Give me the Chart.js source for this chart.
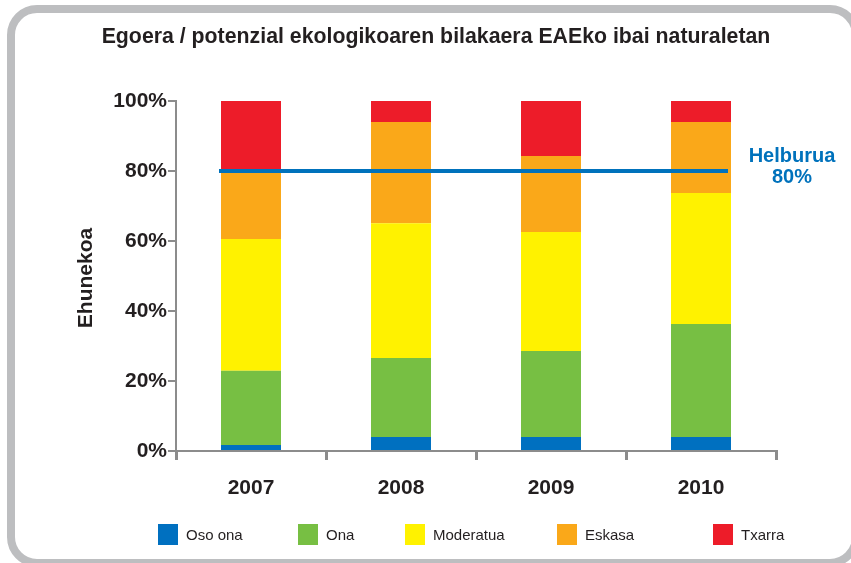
<!DOCTYPE html>
<html>
<head>
<meta charset="utf-8">
<script src="https://cdn.jsdelivr.net/npm/chart.js@4"></script>
<style>
  html, body { margin: 0; padding: 0; background: #fff; overflow: hidden; }
  #wrap { position: relative; width: 851px; height: 563px; overflow: hidden; }
  #frame {
    position: absolute; left: 7px; top: 5px; width: 837px; height: 546px;
    border: 8px solid #BDBEC0; border-radius: 30px;
  }
  #grafico { position: absolute; left: 0; top: 0; }
  #leyenda { position: absolute; left: 0; top: 524px; width: 851px; height: 22px; }
  .item { position: absolute; top: 0; display: flex; align-items: center; height: 21px;
          font: 15px "Liberation Sans", Arial, sans-serif; color: #231F20; }
  .item span.box { display: inline-block; width: 20px; height: 21px; margin-right: 8px; }
</style>
</head>
<body>
<div id="wrap">
  <div id="frame"></div>
  <canvas id="grafico" width="851" height="563"></canvas>
  <div id="leyenda"></div>
</div>
<script>
// ----------------------
// Datuak
// ----------------------
const urteak = ['2007', '2008', '2009', '2010'];
const osoOna    = [1.7, 4.0, 4.0, 4.0];
const ona       = [21.2, 22.6, 24.6, 32.3];
const moderatua = [37.7, 38.5, 34.0, 37.4];
const eskasa    = [19.7, 28.9, 21.7, 20.3];
const txarra    = [19.7, 6.0, 15.7, 6.0];
const helburua  = 80;
const yTicks    = [0, 20, 40, 60, 80, 100];

const izenburua = 'Egoera / potenzial ekologikoaren bilakaera EAEko ibai naturaletan';
const ardatzY   = 'Ehunekoa';

const series = [
  { label: 'Oso ona',   data: osoOna,    color: '#0070C0' },
  { label: 'Ona',       data: ona,       color: '#77BF43' },
  { label: 'Moderatua', data: moderatua, color: '#FFF200' },
  { label: 'Eskasa',    data: eskasa,    color: '#FAA819' },
  { label: 'Txarra',    data: txarra,    color: '#ED1C29' }
];

// legend item left edges (layout only)
const legendX = [158, 298, 405, 557, 713];

const ink = '#231F20';
const axisGray = '#8C8C8C';
const blue = '#0072BC';
const bold = size => ({ family: '"Liberation Sans", Arial, sans-serif', size, weight: 'bold' });

// ----------------------
// Testuak + helburu lerroa
// ----------------------
const textos = {
  id: 'textos',
  afterDatasetsDraw(chart) {
    const { ctx, scales } = chart;
    const y = scales.y, x = scales.x;
    const meta0 = chart.getDatasetMeta(0);
    const half = meta0.data[0].width / 2;
    const yl = y.getPixelForValue(helburua);
    const x0 = x.getPixelForValue(0) - half - 2;
    const x1 = x.getPixelForValue(urteak.length - 1) + half - 3;

    ctx.save();
    ctx.strokeStyle = blue;
    ctx.lineWidth = 4;
    ctx.beginPath();
    ctx.moveTo(x0, yl);
    ctx.lineTo(x1, yl);
    ctx.stroke();

    ctx.fillStyle = blue;
    ctx.font = 'bold 20px "Liberation Sans", Arial, sans-serif';
    ctx.textAlign = 'center';
    ctx.textBaseline = 'middle';
    ctx.fillText('Helburua', 792, yl - 15);
    ctx.fillText(helburua + '%', 792, yl + 6);
    ctx.restore();
  },
  afterDraw(chart) {
    const { ctx } = chart;
    ctx.save();
    ctx.fillStyle = ink;
    ctx.textAlign = 'center';
    ctx.textBaseline = 'middle';
    ctx.font = 'bold 21.3px "Liberation Sans", Arial, sans-serif';
    ctx.fillText(izenburua, 436, 37);

    ctx.translate(86, 278);
    ctx.rotate(-Math.PI / 2);
    ctx.font = 'bold 21px "Liberation Sans", Arial, sans-serif';
    ctx.fillText(ardatzY, 0, 0);
    ctx.restore();
  }
};

new Chart(document.getElementById('grafico'), {
  type: 'bar',
  data: {
    labels: urteak,
    datasets: series.map(s => ({
      label: s.label,
      data: s.data,
      backgroundColor: s.color,
      borderWidth: 0,
      categoryPercentage: 1,
      barPercentage: 0.4
    }))
  },
  options: {
    responsive: false,
    animation: false,
    layout: { padding: { top: 101, right: 75, bottom: 0, left: 0 } },
    plugins: {
      legend: { display: false },
      title: { display: false },
      tooltip: { enabled: false }
    },
    scales: {
      x: {
        stacked: true,
        afterFit: s => { s.height = 112; },
        grid: { offset: true, drawOnChartArea: false, tickLength: 9, color: axisGray, lineWidth: 3 },
        border: { color: axisGray, width: 2 },
        ticks: { color: ink, font: bold(21), padding: 16 }
      },
      y: {
        stacked: true,
        min: 0, max: 100,
        afterFit: s => { s.width = 176; },
        afterBuildTicks: s => { s.ticks = yTicks.map(v => ({ value: v })); },
        grid: { drawOnChartArea: false, tickLength: 8, color: axisGray, lineWidth: 2 },
        border: { color: axisGray, width: 2 },
        ticks: { color: ink, font: bold(21), padding: 1, callback: v => v + '%' }
      }
    }
  },
  plugins: [textos]
});

// HTML legenda
const leyenda = document.getElementById('leyenda');
series.forEach((s, i) => {
  const it = document.createElement('div');
  it.className = 'item';
  it.style.left = legendX[i] + 'px';
  it.innerHTML = `<span class="box" style="background:${s.color}"></span>${s.label}`;
  leyenda.appendChild(it);
});
</script>
</body>
</html>
